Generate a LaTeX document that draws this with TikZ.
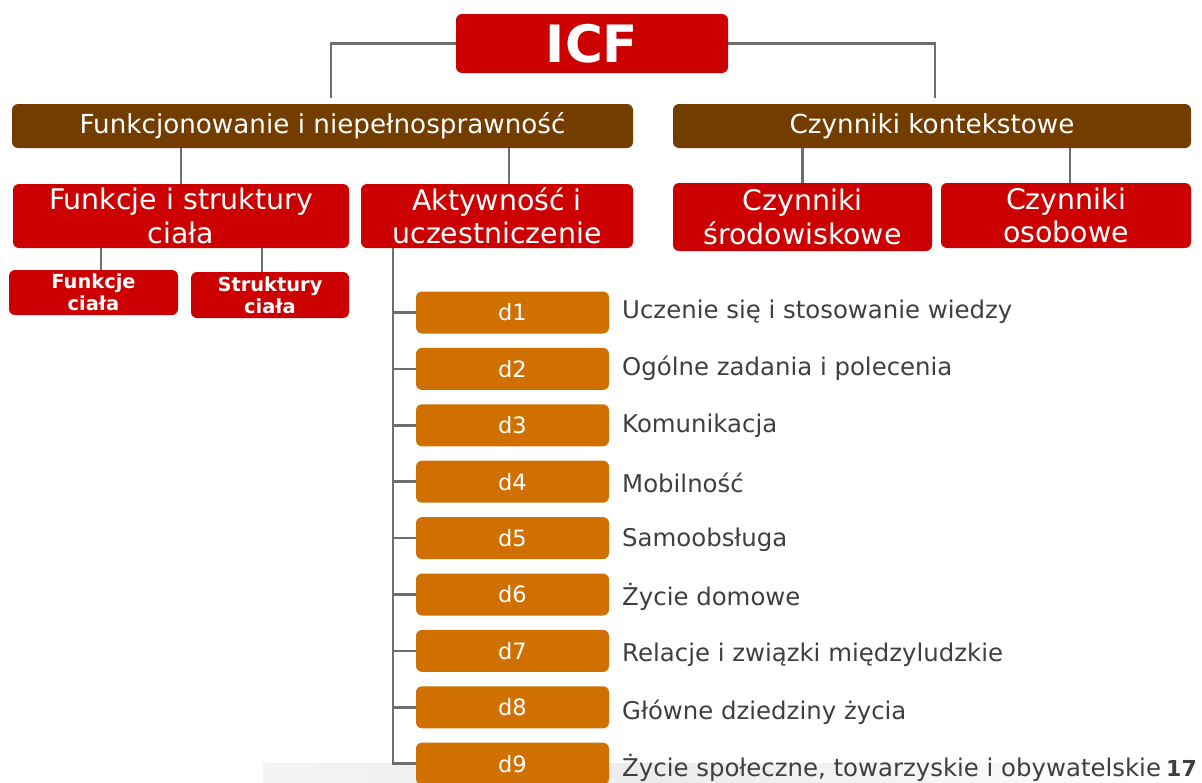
\documentclass[tikz,border=0pt]{standalone}
\usepackage{fontspec}
\setmainfont{DejaVu Sans}
\usetikzlibrary{positioning}

\definecolor{icfred}{HTML}{CC0000}
\definecolor{icfbrown}{HTML}{733D00}
\definecolor{icforange}{HTML}{D07000}
\definecolor{linegray}{HTML}{6E6E6E}
\definecolor{labelgray}{HTML}{3F3F3F}

\newcommand{\fs}[1]{\fontsize{#1}{1.18\dimexpr#1pt\relax}\selectfont}

\begin{document}
\begin{tikzpicture}[
    x=1pt, y=-1pt,
    box/.style={rounded corners=6pt, text=white, align=center, inner sep=0pt},
    topbox/.style={box, fill=icfred, minimum width=272pt, minimum height=59pt, font=\bfseries\fs{51.5}},
    brownbox/.style={box, fill=icfbrown, minimum height=44pt, font=\fs{26.2}},
    redbox/.style={box, fill=icfred, font=\fs{28.4}},
    smallbox/.style={box, fill=icfred, font=\bfseries\fs{19.4}},
    dbox/.style={box, fill=icforange, minimum width=193pt, minimum height=42pt, font=\fs{22.5}},
    dlabel/.style={anchor=west, text=labelgray, font=\fs{24.4}, inner sep=0pt},
    conn/.style={draw=linegray, line width=2.6pt},
    node distance=14pt
]
\useasboundingbox (0,0) rectangle (1202,782);

% footer band
\fill[left color=gray!9, right color=gray!15] (263,763) rectangle (650,782);
\fill[left color=gray!15, right color=white] (650,763) rectangle (1202,782);

% Nodes
\node[topbox] (ICF) at (592,43.5) {ICF};
\node[brownbox, minimum width=621pt] (FN) at (322.5,126) {Funkcjonowanie i niepełnosprawność};
\node[brownbox, minimum width=518pt] (CK) at (932,126) {Czynniki kontekstowe};

\node[redbox, minimum width=336pt, minimum height=64pt] (FS) at (181,216) {Funkcje i struktury\\ciała};
\node[redbox, minimum width=272pt, minimum height=64pt] (AU) at (497,216) {Aktywność i\\uczestniczenie};
\node[redbox, minimum width=259pt, minimum height=68pt] (CS) at (802.5,217) {Czynniki\\środowiskowe};
\node[redbox, minimum width=250pt, minimum height=65pt] (CO) at (1066,215.5) {Czynniki\\osobowe};

\node[smallbox, minimum width=169pt, minimum height=45pt] (FC) at (93.5,292.5) {Funkcje\\[-1pt]ciała};
\node[smallbox, minimum width=158pt, minimum height=46pt] (SC) at (270,295) {Struktury\\[-1pt]ciała};

% Domains
\node[dbox] (d1) at (512.5,312.5) {d1};
\foreach \i [count=\j from 2] in {1,...,8}
    \node[dbox, below=of d\i] (d\j) {d\j};

\node[dlabel] (l1) at (622,312) {Uczenie się i stosowanie wiedzy};
\node[dlabel] (l2) at (622,368) {Ogólne zadania i polecenia};
\node[dlabel] (l3) at (622,426) {Komunikacja};
\node[dlabel] (l4) at (622,483) {Mobilność};
\node[dlabel] (l5) at (622,540) {Samoobsługa};
\node[dlabel] (l6) at (622,597) {Życie domowe};
\node[dlabel] (l7) at (622,655) {Relacje i związki międzyludzkie};
\node[dlabel] (l8) at (622,712) {Główne dziedziny życia};
\node[dlabel] (l9) at (622,768) {Życie społeczne, towarzyskie i obywatelskie};
\node[anchor=east, text=labelgray, font=\bfseries\fs{22}, inner sep=0pt] (pg) at (1197,768) {17};

% Edges
\coordinate (lj) at (331,98);
\coordinate (rj) at (935,98);
\draw[conn] (ICF.west) -| (lj);
\draw[conn] (ICF.east) -| (rj);

\draw[conn] (FS.north |- FN.south) -- (FS.north);
\draw[conn] (FN.south -| 509,0) -- (AU.north -| 509,0);
\draw[conn] (CS.north |- CK.south) -- (CS.north);
\draw[conn] (CK.south -| 1070,0) -- (CO.north -| 1070,0);

\draw[conn] (FS.south -| 101,0) -- (FC.north -| 101,0);
\draw[conn] (FS.south -| 262,0) -- (SC.north -| 262,0);

\draw[conn] (AU.south -| 393,0) |- (d9.west);
\foreach \i in {1,...,8}
    \draw[conn] (d\i.west -| 393,0) -- (d\i.west);

\end{tikzpicture}
\end{document}
